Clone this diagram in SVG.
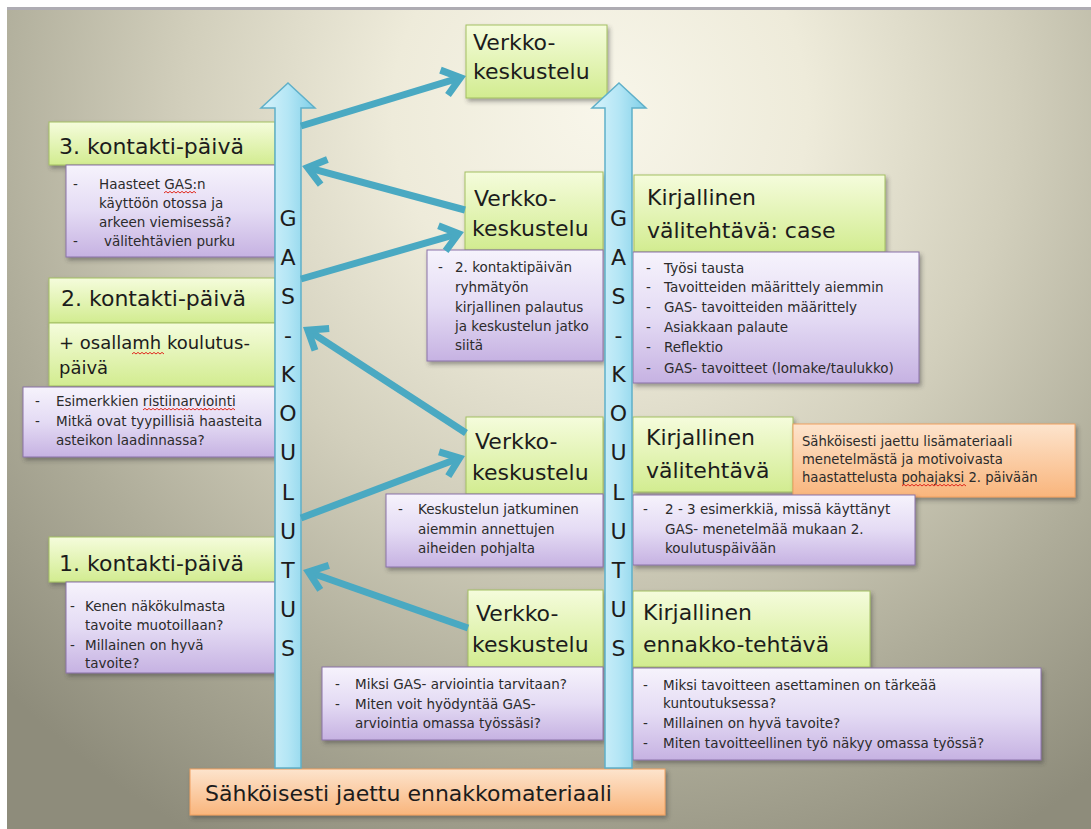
<svg xmlns="http://www.w3.org/2000/svg" width="1091" height="829" viewBox="0 0 1091 829">
  <defs>
    <radialGradient id="bg" gradientUnits="userSpaceOnUse" cx="600" cy="110" r="830">
      <stop offset="0" stop-color="#f8f6ea"/>
      <stop offset="0.25" stop-color="#eeebda"/>
      <stop offset="0.5" stop-color="#d2cfbc"/>
      <stop offset="0.75" stop-color="#aeac99"/>
      <stop offset="1" stop-color="#8e8c7b"/>
    </radialGradient>
    <linearGradient id="green" x1="0" y1="0" x2="0" y2="1">
      <stop offset="0" stop-color="#f5fcdc"/>
      <stop offset="1" stop-color="#d2ec90"/>
    </linearGradient>
    <linearGradient id="purple" x1="0" y1="0" x2="0" y2="1">
      <stop offset="0" stop-color="#f6f3fc"/>
      <stop offset="0.5" stop-color="#e4dbf4"/>
      <stop offset="1" stop-color="#c6b2e2"/>
    </linearGradient>
    <linearGradient id="orange" x1="0" y1="0" x2="0" y2="1">
      <stop offset="0" stop-color="#fde4cd"/>
      <stop offset="1" stop-color="#f9b57c"/>
    </linearGradient>
    <linearGradient id="shaft" x1="0" y1="0" x2="1" y2="0">
      <stop offset="0" stop-color="#d8f3fb"/>
      <stop offset="0.5" stop-color="#b4e6f5"/>
      <stop offset="1" stop-color="#7fcfe8"/>
    </linearGradient>
    <filter id="shadow" x="-10%" y="-10%" width="130%" height="140%">
      <feDropShadow dx="2" dy="3" stdDeviation="2" flood-color="#3a3a3a" flood-opacity="0.45"/>
    </filter>
    <marker id="head" markerUnits="userSpaceOnUse" viewBox="-24 -16 32 32" refX="0" refY="0" markerWidth="32" markerHeight="32" orient="auto" overflow="visible">
      <path d="M-16.8,-13 L0.2,0 L-16.8,13" fill="none" stroke="#4aa9c2" stroke-width="7" stroke-miterlimit="10"/>
    </marker>
    <!-- red spell-check wave, 32px long -->
    <path id="squiggle" d="M0,0 l2,-1.6 l2,1.6 l2,-1.6 l2,1.6 l2,-1.6 l2,1.6 l2,-1.6 l2,1.6 l2,-1.6 l2,1.6 l2,-1.6 l2,1.6 l2,-1.6 l2,1.6 l2,-1.6 l2,1.6" fill="none" stroke="#e0281e" stroke-width="1"/>
    <style>
      .g { fill: url(#green); stroke: #a3bf62; stroke-width: 1; filter: url(#shadow); }
      .p { fill: url(#purple); stroke: #8a72a8; stroke-width: 1; filter: url(#shadow); }
      .o { fill: url(#orange); stroke: #f0a060; stroke-width: 1; filter: url(#shadow); }
      .shaft { fill: url(#shaft); stroke: #5fb0c9; stroke-width: 1.5; }
      .h { font-family: "DejaVu Sans", "Liberation Sans", sans-serif; font-size: 22px; fill: #1c1c1c; }
      .h2 { font-family: "DejaVu Sans", "Liberation Sans", sans-serif; font-size: 18px; fill: #1c1c1c; }
      .s { font-family: "DejaVu Sans", "Liberation Sans", sans-serif; font-size: 13.5px; fill: #2b2b2b; }
      .so { font-family: "DejaVu Sans", "Liberation Sans", sans-serif; font-size: 13.2px; fill: #2b2b2b; }
      .l { font-family: "DejaVu Sans", "Liberation Sans", sans-serif; font-size: 22px; fill: #1c1c1c; text-anchor: middle; }
      .c { fill: none; stroke: #4aa9c2; stroke-width: 7; marker-end: url(#head); }
    </style>
  </defs>

  <!-- slide background -->
  <rect x="0" y="0" width="1091" height="829" fill="#ffffff"/>
  <rect x="7" y="7" width="1084" height="822" fill="url(#bg)"/>
  <rect x="7" y="7" width="1084" height="3" fill="#aeacb3"/>

  <!-- left column -->
  <g id="day3">
    <rect class="g" x="49" y="122" width="226" height="43"/>
    <text class="h" x="59" y="154">3. kontakti-päivä</text>
  </g>
  <g id="day3-notes">
    <rect class="p" x="66" y="165" width="209" height="92"/>
    <text class="s" x="73" y="189">-</text>
    <text class="s" x="99" y="189">Haasteet GAS:n</text>
    <text class="s" x="99" y="208">käyttöön otossa ja</text>
    <text class="s" x="99" y="227">arkeen viemisessä?</text>
    <text class="s" x="73" y="246">-</text>
    <text class="s" x="104" y="246">välitehtävien purku</text>
    <use href="#squiggle" x="164" y="193"/>
  </g>

  <g id="day2">
    <rect class="g" x="49" y="278" width="226" height="45"/>
    <text class="h" x="61" y="306">2. kontakti-päivä</text>
    <rect class="g" x="49" y="323" width="226" height="63"/>
    <text class="h2" x="59" y="349">+ osallamh koulutus-</text>
    <text class="h2" x="59" y="374">päivä</text>
    <use href="#squiggle" x="132" y="354"/>
  </g>
  <g id="day2-notes">
    <rect class="p" x="23" y="387" width="252" height="70"/>
    <text class="s" x="35" y="406">-</text>
    <text class="s" x="56" y="406">Esimerkkien ristiinarviointi</text>
    <text class="s" x="35" y="426">-</text>
    <text class="s" x="56" y="426">Mitkä ovat tyypillisiä haasteita</text>
    <text class="s" x="56" y="445">asteikon laadinnassa?</text>
    <use href="#squiggle" x="143" y="410"/>
    <use href="#squiggle" x="175" y="410"/>
    <use href="#squiggle" x="203" y="410"/>
  </g>

  <g id="day1">
    <rect class="g" x="49" y="537" width="226" height="45"/>
    <text class="h" x="59" y="571">1. kontakti-päivä</text>
  </g>
  <g id="day1-notes">
    <rect class="p" x="66" y="582" width="209" height="91"/>
    <text class="s" x="70" y="611">-</text>
    <text class="s" x="85" y="611">Kenen näkökulmasta</text>
    <text class="s" x="85" y="630">tavoite muotoillaan?</text>
    <text class="s" x="70" y="650">-</text>
    <text class="s" x="85" y="650">Millainen on hyvä</text>
    <text class="s" x="85" y="668">tavoite?</text>
  </g>

  <!-- middle column: online discussions -->
  <g id="forum4">
    <rect class="g" x="466" y="25" width="141" height="73"/>
    <text class="h" x="473" y="50">Verkko-</text>
    <text class="h" x="473" y="79">keskustelu</text>
  </g>

  <g id="forum3">
    <rect class="g" x="465" y="172" width="138" height="78"/>
    <text class="h" x="474" y="206">Verkko-</text>
    <text class="h" x="472" y="236">keskustelu</text>
  </g>
  <g id="forum3-notes">
    <rect class="p" x="427" y="250" width="176" height="111"/>
    <text class="s" x="438" y="272">-</text>
    <text class="s" x="455" y="272">2. kontaktipäivän</text>
    <text class="s" x="455" y="292">ryhmätyön</text>
    <text class="s" x="455" y="312">kirjallinen palautus</text>
    <text class="s" x="455" y="331">ja keskustelun jatko</text>
    <text class="s" x="455" y="350">siitä</text>
  </g>

  <g id="forum2">
    <rect class="g" x="466" y="417" width="137" height="77"/>
    <text class="h" x="475" y="449">Verkko-</text>
    <text class="h" x="472" y="480">keskustelu</text>
  </g>
  <g id="forum2-notes">
    <rect class="p" x="386" y="494" width="217" height="73"/>
    <text class="s" x="398" y="514">-</text>
    <text class="s" x="418" y="514">Keskustelun jatkuminen</text>
    <text class="s" x="418" y="534">aiemmin annettujen</text>
    <text class="s" x="418" y="553">aiheiden pohjalta</text>
  </g>

  <g id="forum1">
    <rect class="g" x="468" y="590" width="135" height="77"/>
    <text class="h" x="476" y="621">Verkko-</text>
    <text class="h" x="472" y="652">keskustelu</text>
  </g>
  <g id="forum1-notes">
    <rect class="p" x="322" y="667" width="281" height="73"/>
    <text class="s" x="335" y="689">-</text>
    <text class="s" x="355" y="689">Miksi GAS- arviointia tarvitaan?</text>
    <text class="s" x="335" y="709">-</text>
    <text class="s" x="355" y="709">Miten voit hyödyntää GAS-</text>
    <text class="s" x="355" y="728">arviointia omassa työssäsi?</text>
  </g>

  <!-- right column: written assignments -->
  <g id="task3">
    <rect class="g" x="634" y="175" width="251" height="77"/>
    <text class="h" x="647" y="205">Kirjallinen</text>
    <text class="h" x="647" y="238">välitehtävä: case</text>
  </g>
  <g id="task3-notes">
    <rect class="p" x="633" y="252" width="286" height="131"/>
    <text class="s" x="646" y="273">-</text>
    <text class="s" x="664" y="273">Työsi tausta</text>
    <text class="s" x="646" y="292">-</text>
    <text class="s" x="664" y="292">Tavoitteiden määrittely aiemmin</text>
    <text class="s" x="646" y="312">-</text>
    <text class="s" x="664" y="312">GAS- tavoitteiden määrittely</text>
    <text class="s" x="646" y="332">-</text>
    <text class="s" x="664" y="332">Asiakkaan palaute</text>
    <text class="s" x="646" y="352">-</text>
    <text class="s" x="664" y="352">Reflektio</text>
    <text class="s" x="646" y="373">-</text>
    <text class="s" x="664" y="373">GAS- tavoitteet (lomake/taulukko)</text>
  </g>

  <g id="task2">
    <rect class="g" x="633" y="417" width="160" height="75"/>
    <text class="h" x="646" y="445">Kirjallinen</text>
    <text class="h" x="646" y="478">välitehtävä</text>
  </g>
  <g id="extra-material">
    <rect class="o" x="793" y="424" width="282" height="73"/>
    <text class="so" x="802" y="446">Sähköisesti jaettu lisämateriaali</text>
    <text class="so" x="802" y="464">menetelmästä ja motivoivasta</text>
    <text class="so" x="802" y="482">haastattelusta pohajaksi 2. päivään</text>
    <use href="#squiggle" x="902" y="486"/>
    <use href="#squiggle" x="934" y="486"/>
  </g>
  <g id="task2-notes">
    <rect class="p" x="633" y="495" width="282" height="70"/>
    <text class="s" x="643" y="514">-</text>
    <text class="s" x="665" y="514">2 - 3 esimerkkiä, missä käyttänyt</text>
    <text class="s" x="665" y="534">GAS- menetelmää mukaan 2.</text>
    <text class="s" x="665" y="553">koulutuspäivään</text>
  </g>

  <g id="task1">
    <rect class="g" x="633" y="591" width="237" height="76"/>
    <text class="h" x="643" y="620">Kirjallinen</text>
    <text class="h" x="643" y="652">ennakko-tehtävä</text>
  </g>
  <g id="task1-notes">
    <rect class="p" x="633" y="668" width="408" height="92"/>
    <text class="s" x="643" y="690">-</text>
    <text class="s" x="663" y="690">Miksi tavoitteen asettaminen on tärkeää</text>
    <text class="s" x="663" y="708">kuntoutuksessa?</text>
    <text class="s" x="643" y="728">-</text>
    <text class="s" x="663" y="728">Millainen on hyvä tavoite?</text>
    <text class="s" x="643" y="748">-</text>
    <text class="s" x="663" y="748">Miten tavoitteellinen työ näkyy omassa työssä?</text>
  </g>

  <!-- starting material -->
  <g id="pre-material">
    <rect class="o" x="190" y="769" width="475" height="46"/>
    <text class="h" x="205" y="801">Sähköisesti jaettu ennakkomateriaali</text>
  </g>

  <!-- training timelines -->
  <g id="timeline-left">
    <path class="shaft" d="M288,83 L315,108 L301,108 L301,768 L275,768 L275,108 L261,108 Z"/>
    <text class="l" x="288" y="226">G</text>
    <text class="l" x="288" y="265">A</text>
    <text class="l" x="288" y="304">S</text>
    <text class="l" x="288" y="343">-</text>
    <text class="l" x="288" y="382">K</text>
    <text class="l" x="288" y="421">O</text>
    <text class="l" x="288" y="460">U</text>
    <text class="l" x="288" y="500">L</text>
    <text class="l" x="288" y="539">U</text>
    <text class="l" x="288" y="578">T</text>
    <text class="l" x="288" y="617">U</text>
    <text class="l" x="288" y="656">S</text>
  </g>
  <g id="timeline-right">
    <path class="shaft" d="M619,83 L646,108 L632,108 L632,768 L605,768 L605,108 L592,108 Z"/>
    <text class="l" x="618.5" y="226">G</text>
    <text class="l" x="618.5" y="265">A</text>
    <text class="l" x="618.5" y="304">S</text>
    <text class="l" x="618.5" y="343">-</text>
    <text class="l" x="618.5" y="382">K</text>
    <text class="l" x="618.5" y="421">O</text>
    <text class="l" x="618.5" y="460">U</text>
    <text class="l" x="618.5" y="500">L</text>
    <text class="l" x="618.5" y="539">U</text>
    <text class="l" x="618.5" y="578">T</text>
    <text class="l" x="618.5" y="617">U</text>
    <text class="l" x="618.5" y="656">S</text>
  </g>

  <!-- connectors -->
  <g id="connectors">
    <line class="c" x1="301" y1="126" x2="460.3" y2="77.7"/>
    <line class="c" x1="465" y1="210" x2="307.8" y2="167.6"/>
    <line class="c" x1="301" y1="279" x2="458.2" y2="233.7"/>
    <line class="c" x1="466" y1="433" x2="308" y2="330.3"/>
    <line class="c" x1="301" y1="518" x2="459.4" y2="458.1"/>
    <line class="c" x1="468" y1="628" x2="308.7" y2="572"/>
  </g>
</svg>
